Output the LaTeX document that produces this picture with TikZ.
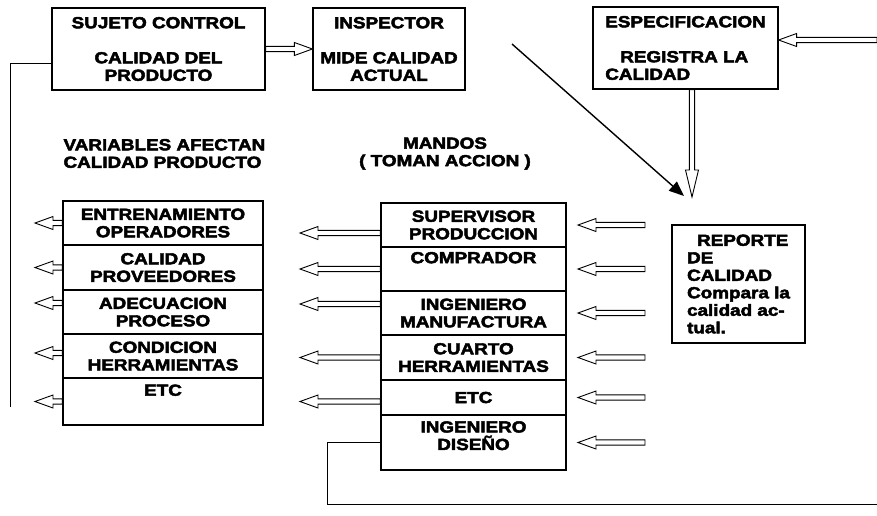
\documentclass[tikz,border=0pt]{standalone}
\usepackage{fontspec}
\setmainfont{Liberation Sans}[FakeStretch=1.18, FakeBold=3]
\usetikzlibrary{arrows.meta,calc}

\begin{document}
\begin{tikzpicture}[x=1pt, y=-1pt,
    font=\fontsize{16}{17.5}\selectfont\bfseries,
    caja/.style={draw, line width=1.2pt, inner sep=0pt, align=center},
    flecha/.style={draw, line width=.9pt, fill=white, line join=miter,
        to path={let \p1=($(\tikztotarget)-(\tikztostart)$), \n1={atan2(\y1,\x1)}, \n2={veclen(\x1,\y1)} in
            ($(\tikztostart)+(\n1+90:2.6pt)$)
            -- ($(\tikztostart)+(\n1:\n2-#1)+(\n1+90:2.6pt)$)
            -- ($(\tikztostart)+(\n1:\n2-#1)+(\n1+90:6.5pt)$)
            -- (\tikztotarget)
            -- ($(\tikztostart)+(\n1:\n2-#1)+(\n1-90:6.5pt)$)
            -- ($(\tikztostart)+(\n1:\n2-#1)+(\n1-90:2.6pt)$)
            -- ($(\tikztostart)+(\n1-90:2.6pt)$) -- cycle}},
    flecha/.default=18pt,
    linea/.style={line width=.9pt}]
                                \useasboundingbox (0,0) rectangle (877,515);

                                % cajas de arriba
                                \node[caja, minimum width=213pt, minimum height=82pt] (sujeto) at (158.5,49) {SUJETO CONTROL\\[17.5pt]CALIDAD DEL\\PRODUCTO};
                                \node[caja, minimum width=152pt, minimum height=82pt] (inspector) at (389,49) {INSPECTOR\\[17.5pt]MIDE CALIDAD\\ACTUAL};
                                \node[caja, minimum width=185pt, minimum height=82pt, align=left] (espec) at (685.5,48) {ESPECIFICACION\\[17.5pt]\hspace{15pt}REGISTRA LA\\CALIDAD};

                                % titulos
                                \node[align=left, anchor=west] (varhead) at (60,153.5) {VARIABLES AFECTAN\\CALIDAD PRODUCTO};
                                \node[align=center] (mandos) at (445,153.5) {MANDOS\\( TOMAN ACCION )};

                                % variables
                                \node[caja, minimum width=200pt, minimum height=44pt] (v1) at (163,223) {ENTRENAMIENTO\\OPERADORES};
                                \node[caja, minimum width=200pt, minimum height=45pt] (v2) at (163,267.5) {CALIDAD\\PROVEEDORES};
                                \node[caja, minimum width=200pt, minimum height=44pt] (v3) at (163,312) {ADECUACION\\PROCESO};
                                \node[caja, minimum width=200pt, minimum height=44pt] (v4) at (163,356) {CONDICION\\HERRAMIENTAS};
                                \node[caja, minimum width=200pt, minimum height=47pt] (v5) at (163,401.5) {ETC\\\strut};

                                % mandos
                                \node[caja, minimum width=185pt, minimum height=44pt] (m1) at (473.5,225) {SUPERVISOR\\PRODUCCION};
                                \node[caja, minimum width=185pt, minimum height=44pt] (m2) at (473.5,269) {COMPRADOR\\\strut};
                                \node[caja, minimum width=185pt, minimum height=44pt] (m3) at (473.5,313) {INGENIERO\\MANUFACTURA};
                                \node[caja, minimum width=185pt, minimum height=45pt] (m4) at (473.5,357.5) {CUARTO\\HERRAMIENTAS};
                                \node[caja, minimum width=185pt, minimum height=35pt] (m5) at (473.5,397.5) {ETC};
                                \node[caja, minimum width=185pt, minimum height=55pt] (m6) at (473.5,442.5) {INGENIERO\\DISEÑO\\[-9pt]\strut};

                                \node[caja, minimum width=133pt, minimum height=118pt, align=left] (reporte) at (738.5,284) {\hspace{10pt}REPORTE\\DE\\CALIDAD\\Compara la\\calidad ac-\\tual.};

                                % puntos sueltos
                                \coordinate (inicioR) at (877,40);
                                \coordinate (puntaV) at (692,197);
                                \coordinate (diagA) at (512,44);
                                \coordinate (diagB) at (684,196);
                                \coordinate (puntaL) at (35,0);
                                \coordinate (puntaM) at (300,0);
                                \coordinate (colaR) at (645,0);
                                \coordinate (puntaR) at (578,0);
                                \coordinate (retornoA) at (10,407);
                                \coordinate (retornoB) at (327,504);
                                \coordinate (retornoC) at (877,504);

                                \draw
                                (sujeto.east) edge[flecha] (inspector.west)
                                (inicioR) edge[flecha] (inicioR -| espec.east)
                                (puntaV |- espec.south) edge[flecha=27pt] (puntaV);
                                \draw[line width=1.4pt, -{Triangle[length=15pt,width=12pt]}] (diagA) -- (diagB);

                                \foreach \f/\d in {v1/0,v2/0,v3/9,v4/3,v5/0}
                                    \draw ([yshift=\d pt]\f.west) edge[flecha] ([yshift=\d pt]\f.west -| puntaL);
                                \foreach \f/\d in {m1/-8,m2/0,m3/9,m4/0,m5/-4}
                                    \draw ([yshift=\d pt]\f.west) edge[flecha] ([yshift=\d pt]\f.west -| puntaM);
                                \foreach \f in {m1,m2,m3,m4,m5,m6}
                                    \draw (\f.east -| colaR) edge[flecha] (\f.east -| puntaR);

                                \draw[linea] ([yshift=-14pt]sujeto.west) -| (retornoA);
                                \draw[linea] (m6.west) -| (retornoB) -- (retornoC);
                            \end{tikzpicture}
\end{document}
